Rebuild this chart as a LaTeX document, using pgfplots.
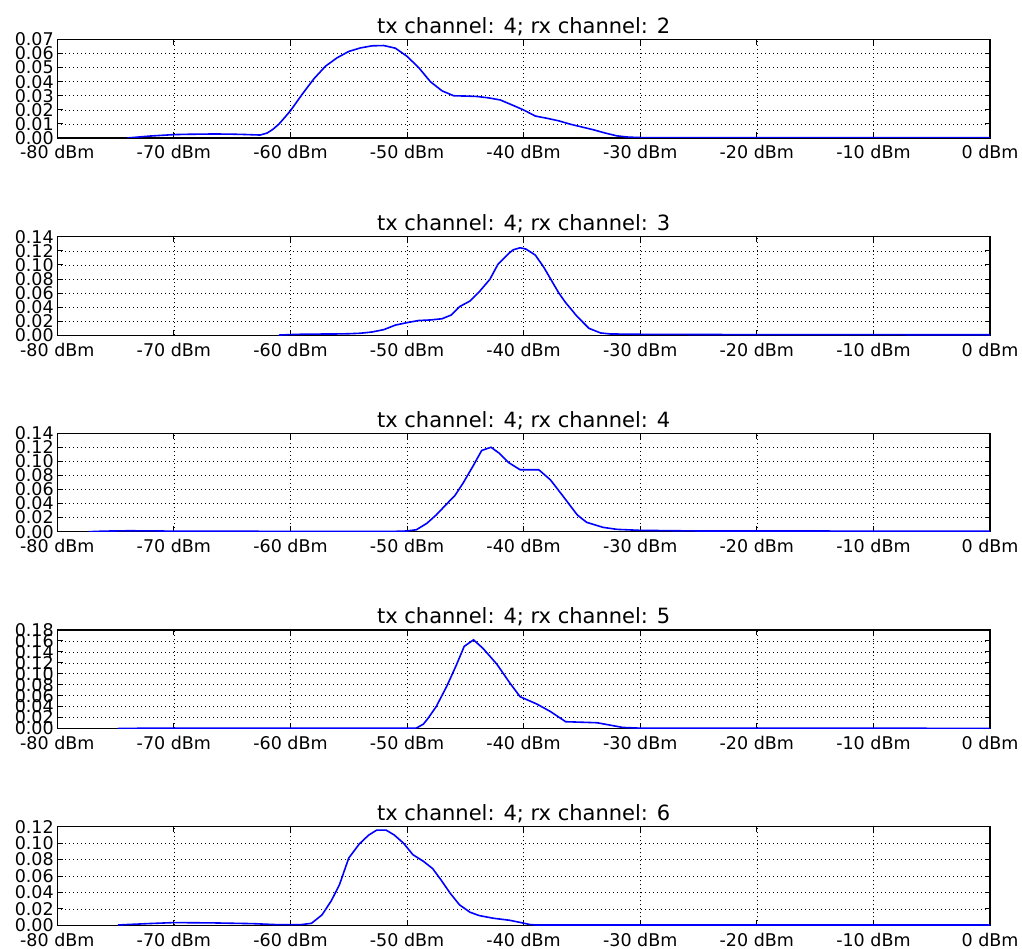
\documentclass[border=0pt]{standalone}
\usepackage{pgfplots}
\pgfplotsset{compat=1.18}
\usepackage{fontspec}
\setmainfont{DejaVu Sans}

\pgfplotsset{
 panel/.style={
  scale only axis, width=932.7pt, height=98.5pt,
  anchor=south west,
  xmin=-80, xmax=0, ymin=0,
  xtick={-80,-70,-60,-50,-40,-30,-20,-10,0},
  xticklabels={-80 dBm,-70 dBm,-60 dBm,-50 dBm,-40 dBm,-30 dBm,-20 dBm,-10 dBm,0 dBm},
  scaled y ticks=false,
  grid=major,
  major grid style={black, line width=0.6pt, dash pattern=on 1pt off 3pt},
  axis line style={black, line width=1.2pt},
  tick align=inside,
  major tick length=5.5pt,
  every tick/.style={black, line width=1pt},
  tick label style={font=\fontsize{17.5}{17.5}\selectfont},
  x tick label style={yshift=-4pt},
  /pgf/number format/assume math mode=true,
  y tick label style={/pgf/number format/fixed, /pgf/number format/fixed zerofill, /pgf/number format/precision=2},
  title style={font=\fontsize{21}{21}\selectfont, anchor=base, at={(0.5,1)}},
 },
 curve/.style={blue, line width=1.6pt, no markers},
}

\begin{document}
\begin{tikzpicture}
\useasboundingbox (0,0) rectangle (1022pt,949pt);

% Panel 1
\begin{axis}[panel, at={(57.3pt,811pt)}, ymax=0.07,
  ytick={0,0.01,0.02,0.03,0.04,0.05,0.06,0.07},
  title={tx channel: 4; rx channel: 2}]
\addplot[curve] coordinates {
(-74,0) (-73,0.0007) (-72,0.0014) (-71,0.0019) (-70,0.0024) (-69,0.0026) (-68,0.0027) (-67,0.0028) (-66,0.0028) (-65,0.0027) (-64,0.0025) (-63,0.0022) (-62.6,0.0021) (-62,0.0035) (-61.5,0.0062) (-61,0.0098) (-60.5,0.0145) (-60,0.0194) (-59,0.031) (-58,0.042) (-57,0.051) (-56,0.057) (-55,0.0615) (-54,0.064) (-53,0.0655) (-52,0.0657) (-51,0.0638) (-50,0.058) (-49,0.050) (-48,0.040) (-47,0.0335) (-46,0.030) (-45,0.0298) (-44,0.0295) (-43,0.0285) (-42,0.027) (-41,0.0235) (-40,0.0199) (-39,0.0156) (-38,0.0140) (-37,0.0122) (-36,0.0098) (-35,0.0078) (-34,0.0058) (-33,0.0035) (-32,0.0015) (-31,0.0006) (-30,0.0003) (-20,0.0002) (-10,0.0002) (0,0.0002)
};
\end{axis}

% Panel 2
\begin{axis}[panel, at={(57.3pt,613.7pt)}, ymax=0.14,
  ytick={0,0.02,0.04,0.06,0.08,0.10,0.12,0.14},
  title={tx channel: 4; rx channel: 3}]
\addplot[curve] coordinates {
(-61,0.0003) (-60,0.0010) (-59,0.0015) (-58,0.0017) (-57,0.0018) (-56,0.0019) (-55,0.0022) (-54,0.0029) (-53,0.0047) (-52,0.0080) (-51,0.0145) (-50,0.0180) (-49,0.0210) (-48,0.0218) (-47,0.0235) (-46.2,0.0289) (-45.5,0.0407) (-44.6,0.0487) (-43.8,0.062) (-42.9,0.0795) (-42.2,0.101) (-41.3,0.116) (-40.9,0.1215) (-40.3,0.1244) (-39.8,0.1225) (-39,0.114) (-38.3,0.0974) (-37,0.0605) (-36.4,0.0464) (-35.4,0.0265) (-34.4,0.0099) (-33.4,0.0033) (-32.6,0.0019) (-30,0.0014) (-20,0.0009) (0,0.0008)
};
\end{axis}

% Panel 3
\begin{axis}[panel, at={(57.3pt,417.3pt)}, ymax=0.14,
  ytick={0,0.02,0.04,0.06,0.08,0.10,0.12,0.14},
  title={tx channel: 4; rx channel: 4}]
\addplot[curve] coordinates {
(-77.3,0) (-76,0.0008) (-74,0.0013) (-72,0.0012) (-70,0.0007) (-60,0.0005) (-51,0.0005) (-50,0.001) (-49.2,0.0028) (-48.3,0.0119) (-47.5,0.0238) (-46.6,0.0394) (-45.9,0.0513) (-45.2,0.0689) (-44.3,0.0945) (-43.6,0.1154) (-42.8,0.120) (-42.1,0.1116) (-41.3,0.0983) (-40.3,0.088) (-38.7,0.088) (-37.7,0.0736) (-36.6,0.050) (-35.4,0.0238) (-34.6,0.0133) (-33.2,0.0062) (-32,0.0033) (-30,0.0019) (-25,0.001) (0,0.0008)
};
\end{axis}

% Panel 4
\begin{axis}[panel, at={(57.3pt,220.5pt)}, ymax=0.18,
  ytick={0,0.02,0.04,0.06,0.08,0.10,0.12,0.14,0.16,0.18},
  title={tx channel: 4; rx channel: 5}]
\addplot[curve] coordinates {
(-74.8,0) (-72,0.0006) (-70,0.0006) (-60,0.0004) (-50,0.0004) (-49.2,0.0008) (-48.6,0.008) (-48.2,0.0186) (-47.5,0.040) (-46.6,0.077) (-45.8,0.1145) (-45.1,0.150) (-44.3,0.162) (-43.5,0.1467) (-42.3,0.1176) (-41.2,0.0836) (-40.3,0.058) (-38.9,0.045) (-37.7,0.031) (-36.4,0.0124) (-33.7,0.0105) (-32.6,0.0062) (-31.5,0.0019) (-30,0.0006) (0,0.0003)
};
\end{axis}

% Panel 5
\begin{axis}[panel, at={(57.3pt,23.7pt)}, ymax=0.12,
  ytick={0,0.02,0.04,0.06,0.08,0.10,0.12},
  title={tx channel: 4; rx channel: 6}]
\addplot[curve] coordinates {
(-74.8,0.0004) (-72.3,0.002) (-70,0.0033) (-66.6,0.0029) (-63.2,0.002) (-61.2,0.0008) (-59.1,0.0008) (-58.2,0.0024) (-57.3,0.0126) (-56.5,0.0298) (-55.8,0.0494) (-55.0,0.082) (-54.1,0.099) (-53.3,0.1098) (-52.6,0.116) (-51.8,0.116) (-51.1,0.110) (-50.3,0.100) (-49.5,0.086) (-48.6,0.078) (-47.8,0.069) (-47.1,0.0555) (-46.3,0.039) (-45.5,0.0249) (-44.6,0.0159) (-43.8,0.0118) (-42.6,0.0086) (-41.2,0.0061) (-40.3,0.0035) (-39.5,0.001) (-39,0.0004) (0,0.0003)
};
\end{axis}
\end{tikzpicture}
\end{document}
